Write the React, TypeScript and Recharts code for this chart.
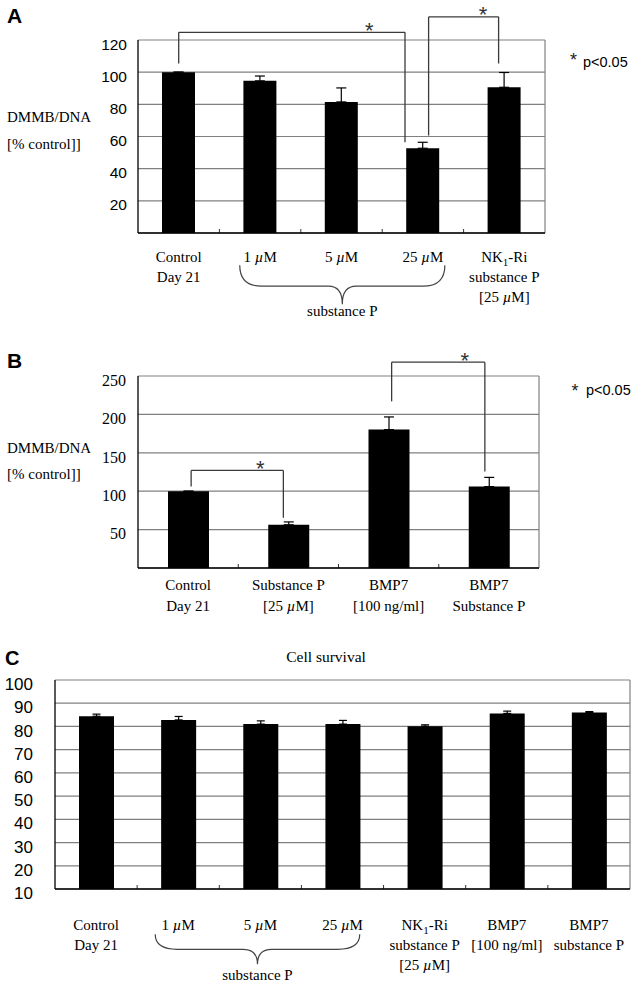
import React from 'react';
import { BarChart, Bar, XAxis, YAxis, CartesianGrid, ErrorBar, ReferenceLine } from 'recharts';

const SERIF = '"Liberation Serif", "Times New Roman", serif';
const SANS = '"Liberation Sans", Arial, sans-serif';

// ---- Panel A: DMMB/DNA, substance P doses ----
const categoriesA = ['Control', '1 µM', '5 µM', '25 µM', 'NK1-Ri'];
const tickLinesA = [['Control', 'Day 21'], ['1 µM'], ['5 µM'], ['25 µM'], ['NK1-Ri', 'substance P', '[25 µM]']];
const valuesA = [100, 94.6, 81.5, 52.7, 90.6];
const errorsA = [0, 3, 8.7, 3.7, 9.2];
const yTicksA = [20, 40, 60, 80, 100, 120];
// brackets in axis units (x = category index, y = data value)
const bracketsA = [
  { from: 0, to: 2.78, leftEnd: 105.4, rightEnd: 56.4, top: 124.8, star: 2.34 },
  { from: 3.07, to: 3.93, leftEnd: 60.6, rightEnd: 105.4, top: 134.4, star: 3.74 },
];
const braceA = { from: 0.75, to: 3.27, tip: -20, label: 'substance P' };

// ---- Panel B: DMMB/DNA, BMP7 ----
const categoriesB = ['Control', 'Substance P', 'BMP7', 'BMP7 + Substance P'];
const tickLinesB = [['Control', 'Day 21'], ['Substance P', '[25 µM]'], ['BMP7', '[100 ng/ml]'], ['BMP7', 'Substance P']];
const valuesB = [100, 56.3, 180.2, 106];
const errorsB = [0, 3.7, 16.5, 12];
const yTicksB = [50, 100, 150, 200, 250];
const bracketsB = [
  { from: 0.03, to: 0.95, leftEnd: 106, rightEnd: 65.4, top: 127, star: 0.72 },
  { from: 2.03, to: 2.96, leftEnd: 217, rightEnd: 125.6, top: 268, star: 2.76 },
];

// ---- Panel C: cell survival ----
const categoriesC = ['Control', '1 µM', '5 µM', '25 µM', 'NK1-Ri', 'BMP7', 'BMP7 + substance P'];
const tickLinesC = [
  ['Control', 'Day 21'], ['1 µM'], ['5 µM'], ['25 µM'],
  ['NK1-Ri', 'substance P', '[25 µM]'], ['BMP7', '[100 ng/ml]'], ['BMP7', 'substance P'],
];
const valuesC = [84.4, 82.8, 81.0, 81.0, 80.1, 85.6, 86.0];
const errorsC = [0.9, 1.5, 1.4, 1.6, 0.6, 1.0, 0.4];
const yTicksC = [10, 20, 30, 40, 50, 60, 70, 80, 90, 100];
const braceC = { from: 0.72, to: 3.21, tip: -9.5, label: 'substance P' };

const makeTable = (cats: string[], vals: number[], errs: number[]) =>
  cats.map((name, i) => ({ name, idx: i, value: vals[i], err: [0, errs[i]] }));

// italic µ, subscript 1 in NK1
const rich = (line: string) => {
  if (line.startsWith('NK1')) {
    return [
      <tspan key="a">NK</tspan>,
      <tspan key="b" dy={4} fontSize={11}>1</tspan>,
      <tspan key="c" dy={-4}>{line.slice(3)}</tspan>,
    ];
  }
  const parts = line.split('µ');
  const out: React.ReactNode[] = [];
  parts.forEach((p, i) => {
    if (i > 0) out.push(<tspan key={'m' + i} fontStyle="italic">µ</tspan>);
    out.push(<tspan key={'t' + i}>{p}</tspan>);
  });
  return out;
};

const catTick = (cats: string[], lines: string[][], offsets: number[]) => (p: any) => {
  const i = cats.indexOf(p.payload?.value);
  return (
    <g>
      {(lines[i] || []).map((line, k) => (
        <text key={k} x={p.x} y={p.y + offsets[k]} textAnchor="middle" style={{ fontFamily: SERIF }} fontSize={15} fill="#000">
          {rich(line)}
        </text>
      ))}
    </g>
  );
};

const yTick = (family: string, size: number) => (p: any) => (
  <text x={p.x} y={p.y + 4} dy="0.36em" textAnchor="end" style={{ fontFamily: family }} fontSize={size} fill="#000">
    {p.payload.value}
  </text>
);

const BRACKET = '#3a3a3a';
const GRID = '#808080';

const bracketLines = (b: any, key: string) => [
  <ReferenceLine key={key + 'l'} xAxisId="n" ifOverflow="visible" stroke={BRACKET} strokeWidth={1.3}
    segment={[{ x: b.from, y: b.leftEnd }, { x: b.from, y: b.top }]} />,
  <ReferenceLine key={key + 't'} xAxisId="n" ifOverflow="visible" stroke={BRACKET} strokeWidth={1.3}
    segment={[{ x: b.from, y: b.top }, { x: b.to, y: b.top }]} />,
  <ReferenceLine key={key + 'r'} xAxisId="n" ifOverflow="visible" stroke={BRACKET} strokeWidth={1.3}
    segment={[{ x: b.to, y: b.top }, { x: b.to, y: b.rightEnd }]} />,
  <ReferenceLine key={key + 's'} xAxisId="n" ifOverflow="visible"
    segment={[{ x: b.star, y: b.top }, { x: b.star, y: b.top }]}
    shape={(p: any) => (
      <text x={p.x1} y={p.y1 + 5.5} textAnchor="middle" style={{ fontFamily: SANS }} fontSize={22} fill="#333">*</text>
    )} />,
];

const braceLine = (b: any, d1: number, d2: number, gap: number) => (
  <ReferenceLine key="brace" xAxisId="n" ifOverflow="visible"
    segment={[{ x: b.from, y: b.tip }, { x: b.to, y: b.tip }]}
    shape={(p: any) => {
      const { x1, x2, y1 } = p;
      const yh = y1 + d1;
      const yc = yh + d2;
      const xm = (x1 + x2) / 2;
      const r = 22;
      const r2 = 14;
      const d = `M${x1},${y1} Q${x1},${yh} ${x1 + r},${yh} L${xm - r2},${yh} Q${xm},${yh} ${xm},${yc} ` +
        `Q${xm},${yh} ${xm + r2},${yh} L${x2 - r},${yh} Q${x2},${yh} ${x2},${y1}`;
      return (
        <g>
          <path d={d} fill="none" stroke="#444" strokeWidth={1.2} />
          <text x={xm} y={yc + gap} textAnchor="middle" style={{ fontFamily: SERIF }} fontSize={15} fill="#000">{b.label}</text>
        </g>
      );
    }} />
);

type PanelProps = {
  top: number; height: number;
  margin: { top: number; right: number; bottom: number; left: number };
  cats: string[]; data: any[]; lines: string[][]; offsets: number[];
  domain: [number, number]; yTicks: number[]; yWidth: number; tickMargin: number;
  yFamily: string; ySize: number; barSize: number; capWidth: number;
  brackets?: any[]; brace?: any; braceDims?: [number, number, number];
};

const Panel = (cfg: PanelProps) => {
  const n = cfg.data.length;
  const bounds = Array.from({ length: n - 1 }, (_, i) => i + 0.5);
  return (
    <div style={{ position: 'absolute', left: 0, top: cfg.top }}>
      <BarChart width={638} height={cfg.height} data={cfg.data} margin={cfg.margin}>
        <CartesianGrid vertical={false} stroke={GRID} strokeWidth={1.2} />
        <XAxis xAxisId="n" type="number" dataKey="idx" domain={[-0.5, n - 0.5]} allowDataOverflow
          ticks={bounds} interval={0} height={1} mirror axisLine={false} tick={() => <g />}
          tickLine={{ stroke: '#333' }} tickSize={4} />
        <XAxis dataKey="name" height={1} interval={0} tickLine={false} tickSize={0} tickMargin={0}
          axisLine={{ stroke: '#000', strokeWidth: 1.3 }} tick={catTick(cfg.cats, cfg.lines, cfg.offsets)} />
        <YAxis domain={cfg.domain} ticks={cfg.yTicks} allowDataOverflow width={cfg.yWidth} interval={0}
          axisLine={{ stroke: '#000', strokeWidth: 1.3 }} tickLine={false} tickSize={0} tickMargin={cfg.tickMargin}
          tick={yTick(cfg.yFamily, cfg.ySize)} />
        <ReferenceLine xAxisId="n" x={n - 0.5} stroke={GRID} strokeWidth={1.2} />
        <Bar dataKey="value" fill="#000" barSize={cfg.barSize} isAnimationActive={false}>
          <ErrorBar dataKey="err" width={cfg.capWidth} stroke="#000" strokeWidth={1.2} isAnimationActive={false} />
        </Bar>
        {(cfg.brackets || []).flatMap((b, i) => bracketLines(b, 'b' + i))}
        {cfg.brace && cfg.braceDims && braceLine(cfg.brace, cfg.braceDims[0], cfg.braceDims[1], cfg.braceDims[2])}
      </BarChart>
    </div>
  );
};

const Star = ({ x, cy, size }: { x: number; cy: number; size: number }) => (
  <text x={x} y={cy + size * 0.57} textAnchor="middle" style={{ fontFamily: SANS }} fontSize={size} fill="#222">*</text>
);

const T = ({ x, y, family, size, children, bold, anchor }: any) => (
  <text x={x} y={y} textAnchor={anchor || 'start'} style={{ fontFamily: family, fontWeight: bold ? 'bold' : 'normal' }}
    fontSize={size} fill="#000">{children}</text>
);

export default function App() {
  return (
    <div style={{ position: 'absolute', left: 0, top: 0, width: 638, height: 985, background: '#fff' }}>
      <Panel top={0} height={330} margin={{ top: 40, right: 93, bottom: 96, left: 98 }}
        cats={categoriesA} data={makeTable(categoriesA, valuesA, errorsA)} lines={tickLinesA} offsets={[29, 49, 69]}
        domain={[0, 120]} yTicks={yTicksA} yWidth={40} tickMargin={11} yFamily={SANS} ySize={15.5}
        barSize={33} capWidth={5} brackets={bracketsA} brace={braceA} braceDims={[21, 18, 12]} />
      <Panel top={335} height={300} margin={{ top: 41, right: 99, bottom: 66, left: 98 }}
        cats={categoriesB} data={makeTable(categoriesB, valuesB, errorsB)} lines={tickLinesB} offsets={[22, 43]}
        domain={[0, 250]} yTicks={yTicksB} yWidth={40} tickMargin={12} yFamily={SERIF} ySize={16}
        barSize={41} capWidth={5} brackets={bracketsB} />
      <Panel top={640} height={345} margin={{ top: 40, right: 8, bottom: 95, left: 5 }}
        cats={categoriesC} data={makeTable(categoriesC, valuesC, errorsC)} lines={tickLinesC} offsets={[41, 61, 81]}
        domain={[10, 100]} yTicks={yTicksC} yWidth={50} tickMargin={22} yFamily={SANS} ySize={17}
        barSize={35} capWidth={4} brace={braceC} braceDims={[15, 15, 16]} />

      <svg width={638} height={985} style={{ position: 'absolute', left: 0, top: 0, pointerEvents: 'none' }}>
        {/* panel letters */}
        <T x={7} y={23} family={SANS} size={21} bold>A</T>
        <T x={7} y={368} family={SANS} size={21} bold>B</T>
        <T x={5} y={665} family={SANS} size={20} bold>C</T>

        {/* y axis titles */}
        <T x={7} y={122} family={SERIF} size={15}>DMMB/DNA</T>
        <T x={7} y={149} family={SERIF} size={15}>[% control]]</T>
        <T x={7} y={453} family={SERIF} size={15}>DMMB/DNA</T>
        <T x={7} y={479} family={SERIF} size={15}>[% control]]</T>

        {/* significance key */}
        <Star x={573.5} cy={55.5} size={18} />
        <T x={583} y={67} family={SANS} size={14.5}>p&lt;0.05</T>
        <Star x={575} cy={386.5} size={18} />
        <T x={586} y={395} family={SANS} size={14.5}>p&lt;0.05</T>

        <T x={326} y={662} family={SERIF} size={15.5} anchor="middle">Cell survival</T>
      </svg>
    </div>
  );
}
